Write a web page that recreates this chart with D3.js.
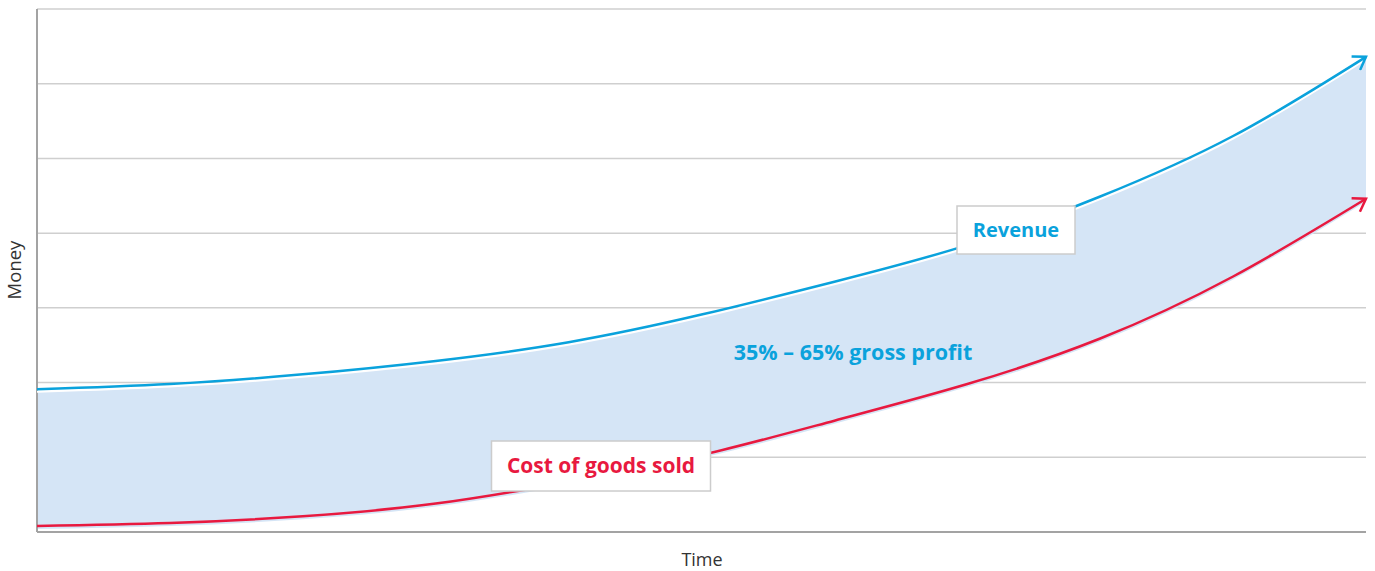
<!DOCTYPE html>
<html>
<head>
    <meta charset="utf-8">
    <title>Revenue vs cost of goods sold</title>
    <script src="https://d3js.org/d3.v7.min.js"></script>
    <style>
        body { margin: 0; background: #fff; }
        text { font-family: 'Open Sans', 'Noto Sans', sans-serif; }
    </style>
</head>
<body>
    <svg id="chart" width="1375" height="571"></svg>
    <script>
        // time steps and the two curves (money units, one unit per gridline)
        const timeSteps = [0, 1, 2, 3, 4, 5, 6, 7, 8, 9, 10];
        const revenue = [1.91, 1.98, 2.11, 2.29, 2.54, 2.91, 3.35, 3.84, 4.49, 5.30, 6.36];
        const cogs = [0.08, 0.12, 0.21, 0.38, 0.67, 1.03, 1.49, 1.98, 2.59, 3.42, 4.46];
        const gridValues = [1, 2, 3, 4, 5, 6, 7];

        const blue = "#0aa2dc";
        const red = "#e8193f";

        const margin = {top: 9, right: 9, bottom: 39, left: 37};
        const width = 1375, height = 571;

        const svg = d3.select("#chart");

        let x = d3.scaleLinear().domain([0, 10]).range([margin.left, width - margin.right]);
        let y = d3.scaleLinear().domain([0, 7]).range([height - margin.bottom, margin.top]);

        // gridlines
        svg.append("g")
            .selectAll("line")
            .data(gridValues)
            .enter().append("line")
            .attr("x1", margin.left)
            .attr("x2", width - margin.right)
            .attr("y1", d => y(d))
            .attr("y2", d => y(d))
            .attr("stroke", "#cfcfcf")
            .attr("stroke-width", 1.5);

        let pts = timeSteps.map((t, i) => ({t: t, r: revenue[i], c: cogs[i]}));

        let area = d3.area()
            .x(d => x(d.t))
            .y0(d => y(d.c) + 3)
            .y1(d => y(d.r) + 2)
            .curve(d3.curveNatural);

        svg.append("path")
            .datum(pts)
            .attr("d", area)
            .attr("fill", "#d5e5f6");

        // axes
        svg.append("line")
            .attr("x1", margin.left).attr("x2", margin.left)
            .attr("y1", margin.top).attr("y2", y(0))
            .attr("stroke", "#a3a3a3").attr("stroke-width", 2);
        svg.append("line")
            .attr("x1", margin.left).attr("x2", width - margin.right)
            .attr("y1", y(0)).attr("y2", y(0))
            .attr("stroke", "#a3a3a3").attr("stroke-width", 2);

        let defs = svg.append("defs");
        function addArrow(id, color){
            defs.append("marker")
                .attr("id", id)
                .attr("markerUnits", "userSpaceOnUse")
                .attr("viewBox", "-14 -9 16 18")
                .attr("refX", 0).attr("refY", 0)
                .attr("markerWidth", 16).attr("markerHeight", 18)
                .attr("orient", "auto")
                .append("path")
                .attr("d", "M-12,-8 L0,0 L-12,8")
                .attr("fill", "none")
                .attr("stroke", color)
                .attr("stroke-width", 2.5);
        }
        addArrow("arrow-blue", blue);
        addArrow("arrow-red", red);

        let revLine = d3.line().x(d => x(d.t)).y(d => y(d.r)).curve(d3.curveNatural);
        let cogsLine = d3.line().x(d => x(d.t)).y(d => y(d.c)).curve(d3.curveNatural);

        // white edge under revenue line
        svg.append("path")
            .datum(pts)
            .attr("d", revLine)
            .attr("transform", "translate(0,2.5)")
            .attr("fill", "none")
            .attr("stroke", "#fff")
            .attr("stroke-width", 2);

        svg.append("path")
            .datum(pts)
            .attr("d", revLine)
            .attr("fill", "none")
            .attr("stroke", blue)
            .attr("stroke-width", 2.5)
            .attr("marker-end", "url(#arrow-blue)");

        svg.append("path")
            .datum(pts)
            .attr("d", cogsLine)
            .attr("fill", "none")
            .attr("stroke", red)
            .attr("stroke-width", 2.5)
            .attr("marker-end", "url(#arrow-red)");

        // label boxes
        function labelBox(cx, cy, w, h, txt, color, size){
            let g = svg.append("g");
            g.append("rect")
                .attr("x", cx - w/2).attr("y", cy - h/2)
                .attr("width", w).attr("height", h)
                .attr("fill", "#fff")
                .attr("stroke", "#cccccc")
                .attr("stroke-width", 1.5);
            g.append("text")
                .attr("x", cx).attr("y", cy)
                .attr("dy", "0.35em")
                .attr("text-anchor", "middle")
                .attr("font-size", size)
                .attr("font-weight", 700)
                .attr("fill", color)
                .text(txt);
        }
        labelBox(1016, 230, 118, 48, "Revenue", blue, 20);
        labelBox(601, 466, 219, 50, "Cost of goods sold", red, 21);

        svg.append("text")
            .attr("x", 853).attr("y", 352)
            .attr("dy", "0.35em")
            .attr("text-anchor", "middle")
            .attr("font-size", 21.5)
            .attr("font-weight", 700)
            .attr("fill", blue)
            .text("35% – 65% gross profit");

        // axis titles
        svg.append("text")
            .attr("x", 702).attr("y", 566)
            .attr("text-anchor", "middle")
            .attr("font-size", 18)
            .attr("fill", "#333")
            .text("Time");

        svg.append("text")
            .attr("transform", "translate(15,270) rotate(-90)")
            .attr("dy", "0.35em")
            .attr("text-anchor", "middle")
            .attr("font-size", 18.5)
            .attr("fill", "#333")
            .text("Money");
    </script>
</body>
</html>
